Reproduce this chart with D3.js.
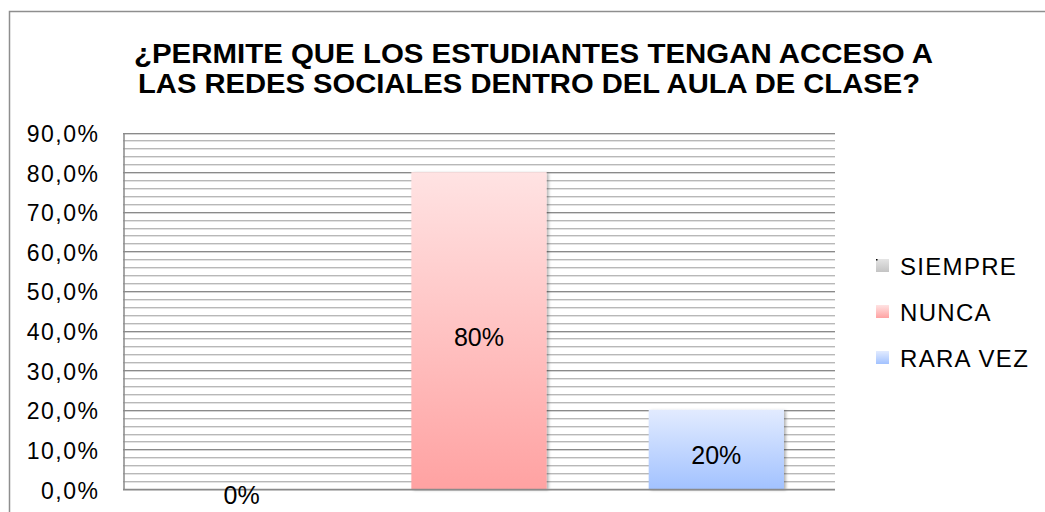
<!DOCTYPE html>
<html><head><meta charset="utf-8">
<script src="https://cdn.jsdelivr.net/npm/d3@7"></script>
<style>body{margin:0;background:#fff;}svg{display:block;font-family:"Liberation Sans",Arial,sans-serif;}</style>
</head><body>
<script>
const titleLines = ["¿PERMITE QUE LOS ESTUDIANTES TENGAN ACCESO A", "LAS REDES SOCIALES DENTRO DEL AULA DE CLASE?"];
const categories = ["SIEMPRE", "NUNCA", "RARA VEZ"];
const values = [0, 0.8, 0.2];
const valueLabels = ["0%", "80%", "20%"];
const yTicks = [0, 0.1, 0.2, 0.3, 0.4, 0.5, 0.6, 0.7, 0.8, 0.9];

const W = 1045, H = 512;
const svg = d3.select("body").append("svg").attr("width", W).attr("height", H);
const defs = svg.append("defs");

function grad(id, top, bottom) {
  const g = defs.append("linearGradient").attr("id", id).attr("x1", 0).attr("y1", 0).attr("x2", 0).attr("y2", 1);
  g.append("stop").attr("offset", "0%").attr("stop-color", top);
  g.append("stop").attr("offset", "100%").attr("stop-color", bottom);
}
grad("g0", "#e4e4e4", "#c4c4c4");
grad("g1", "#ffe3e3", "#ffa2a2");
grad("g2", "#e2ebff", "#a2c2ff");
const fills = ["url(#g0)", "url(#g1)", "url(#g2)"];

const f = defs.append("filter").attr("id", "sh").attr("x", "-10%").attr("y", "-10%").attr("width", "130%").attr("height", "130%");
f.append("feDropShadow").attr("dx", 2).attr("dy", 1).attr("stdDeviation", 1.5).attr("flood-color", "#000").attr("flood-opacity", 0.3);

// outer frame
svg.append("rect").attr("x", 9.5).attr("y", 11.5).attr("width", 1100).attr("height", 600)
  .attr("fill", "none").attr("stroke", "#8e8e8e").attr("stroke-width", 1.5);

const x = d3.scaleBand().domain(categories).range([123, 835]).paddingInner(0.43).paddingOuter(0.215);
const y = d3.scaleLinear().domain([0, 0.9]).range([489, 132.5]);

// minor gridlines (every 2%)
const minor = y.ticks(45).filter(t => Math.abs(Math.round(t * 100) % 10) > 0.001);
const gridG = svg.append("g");
minor.forEach(t => {
  const yy = Math.round(y(t)) + 0.5;
  gridG.append("line").attr("x1", 123).attr("x2", 835).attr("y1", yy + 1).attr("y2", yy + 1).attr("stroke", "#e2e2e2");
  gridG.append("line").attr("x1", 123).attr("x2", 835).attr("y1", yy).attr("y2", yy).attr("stroke", "#b8b8b8");
});
yTicks.forEach(t => {
  const yy = Math.round(y(t)) + 0.5;
  gridG.append("line").attr("x1", 123).attr("x2", 835).attr("y1", yy + 1).attr("y2", yy + 1).attr("stroke", "#d4d4d4");
  gridG.append("line").attr("x1", 123).attr("x2", 835).attr("y1", yy).attr("y2", yy).attr("stroke", "#8a8a8a");
});

// y axis
const loc = d3.formatLocale({decimal: ",", thousands: ".", grouping: [3], currency: ["", ""]});
const fmt = loc.format(".1%");
const yAxis = svg.append("g").attr("transform", "translate(123.5,0)")
  .call(d3.axisLeft(y).tickValues(yTicks).tickFormat(fmt).tickSize(0).tickPadding(24));
yAxis.select(".domain").attr("stroke", "#8a8a8a").attr("stroke-width", 1.5);
yAxis.selectAll("text").attr("font-size", 23).attr("fill", "#000")
  .attr("letter-spacing", 1.5).attr("dy", 9).attr("font-family", "Liberation Sans, Arial, sans-serif");

// bars
svg.append("g").selectAll("rect").data(categories).join("rect")
  .attr("x", d => x(d)).attr("width", x.bandwidth())
  .attr("y", (d, i) => y(values[i])).attr("height", (d, i) => y(0) - y(values[i]))
  .attr("fill", (d, i) => fills[i]).attr("filter", (d, i) => values[i] > 0 ? "url(#sh)" : null);

// x axis line
svg.append("line").attr("x1", 123).attr("x2", 835).attr("y1", 489.5).attr("y2", 489.5).attr("stroke", "#8a8a8a").attr("stroke-width", 1.5);

// data labels
svg.append("g").selectAll("text").data(categories).join("text")
  .attr("x", d => x(d) + x.bandwidth() / 2)
  .attr("y", (d, i) => (y(values[i]) + y(0)) / 2 + 15)
  .attr("text-anchor", "middle").attr("font-size", 25).attr("fill", "#000")
  .text((d, i) => valueLabels[i]);

// title
const tl = [{y: 63, len: 799, cx: 533.5}, {y: 93, len: 782, cx: 529}];
svg.append("g").selectAll("text").data(titleLines).join("text")
  .attr("x", (d, i) => tl[i].cx - tl[i].len / 2).attr("y", (d, i) => tl[i].y)
  .attr("textLength", (d, i) => tl[i].len).attr("lengthAdjust", "spacingAndGlyphs")
  .attr("font-size", 27).attr("font-weight", "bold").attr("fill", "#000")
  .text(d => d);

// legend
const lg = svg.append("g");
const legY = [275, 321, 367];
categories.forEach((c, i) => {
  lg.append("rect").attr("x", 876).attr("y", legY[i] - 16).attr("width", 13).attr("height", 13).attr("fill", fills[i]);
  lg.append("text").attr("x", 900).attr("y", legY[i]).attr("font-size", 24).attr("letter-spacing", 1.3)
    .attr("fill", "#000").text(c);
});
lg.append("rect").attr("x", 876).attr("y", legY[0] - 16).attr("width", 1.5).attr("height", 1.5).attr("fill", "#000");
</script>
</body></html>
